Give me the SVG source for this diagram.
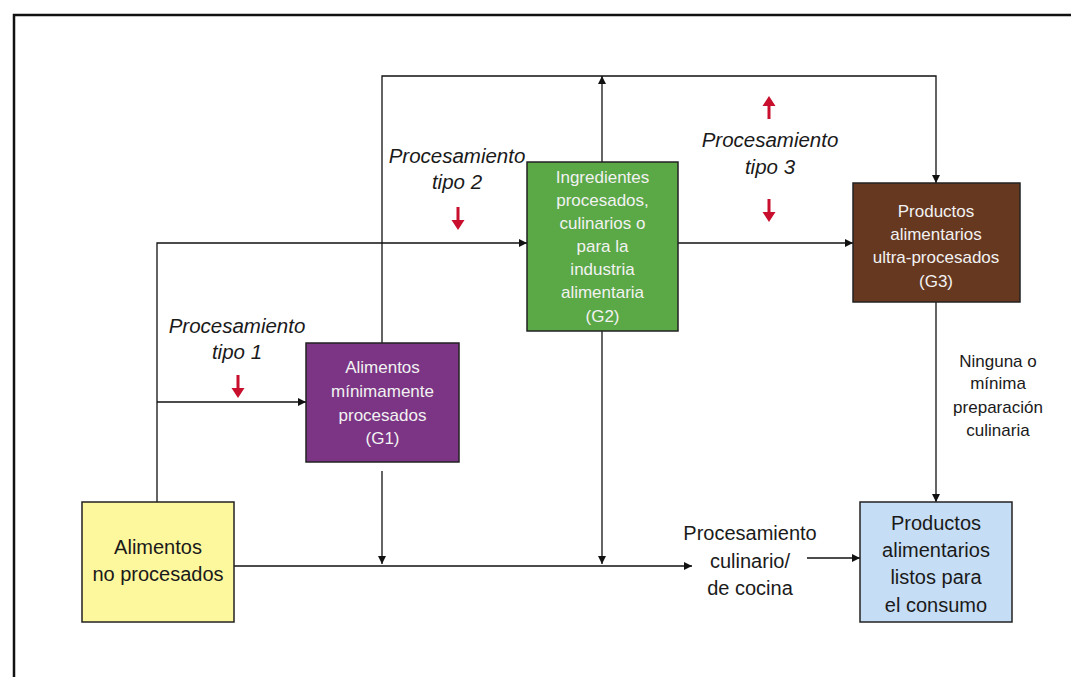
<svg xmlns="http://www.w3.org/2000/svg" width="1071" height="677" viewBox="0 0 1071 677">
<style>
.t{font-family:"Liberation Sans",Arial,sans-serif;text-anchor:middle}
.lt{fill:#f2f2f2;font-size:17px}
.dk{fill:#1a1a1a;font-size:20px}
.it{font-style:italic;font-size:20.5px;fill:#1a1a1a}
.lb{fill:#1a1a1a;font-size:17px}
.box{stroke:#222;stroke-width:1.5}
.ln{fill:none;stroke:#111;stroke-width:1.3}
.red{fill:#c8102e}
</style>
<defs>
<marker id="ah" viewBox="0 0 10 10" refX="10" refY="5" markerWidth="8" markerHeight="8" markerUnits="userSpaceOnUse" orient="auto">
<path d="M0,0 L10,5 L0,10 z" fill="#111"/>
</marker>
</defs>
<rect width="1071" height="677" fill="#fff"/>
<path d="M14,677 V15 H1071" fill="none" stroke="#111" stroke-width="2.5"/>

<g id="connectors">
<path class="ln" d="M157,502 V243 H527" marker-end="url(#ah)"/>
<path class="ln" d="M157,402 H306" marker-end="url(#ah)"/>
<path class="ln" d="M382,343 V76 H936 V183" marker-end="url(#ah)"/>
<path class="ln" d="M602,162 V76" marker-end="url(#ah)"/>
<path class="ln" d="M678,243 H853" marker-end="url(#ah)"/>
<path class="ln" d="M382,471 V564" marker-end="url(#ah)"/>
<path class="ln" d="M602,331 V564" marker-end="url(#ah)"/>
<path class="ln" d="M234,566 H692" marker-end="url(#ah)"/>
<path class="ln" d="M807,558 H860" marker-end="url(#ah)"/>
<path class="ln" d="M936,302 V502" marker-end="url(#ah)"/>
</g>

<g id="red-arrows">
<path class="red" d="M236.5,375 h3 v13 h5 l-6.5,10 l-6.5,-10 h5 z"/>
<path class="red" d="M456.5,207 h3 v13 h5 l-6.5,10 l-6.5,-10 h5 z"/>
<path class="red" d="M767.5,199 h3 v13 h5 l-6.5,10 l-6.5,-10 h5 z"/>
<path class="red" d="M767.5,119 h3 v-13 h5 l-6.5,-10 l-6.5,10 h5 z"/>
</g>

<g id="labels">
<text class="t it" x="237" y="333">Procesamiento</text>
<text class="t it" x="237" y="359">tipo 1</text>
<text class="t it" x="457" y="163">Procesamiento</text>
<text class="t it" x="457" y="189">tipo 2</text>
<text class="t it" x="770" y="147">Procesamiento</text>
<text class="t it" x="770" y="174">tipo 3</text>
<text class="t dk" x="750" y="540">Procesamiento</text>
<text class="t dk" x="750" y="568">culinario/</text>
<text class="t dk" x="750" y="595">de cocina</text>
<text class="t lb" x="998" y="367">Ninguna o</text>
<text class="t lb" x="998" y="389">mínima</text>
<text class="t lb" x="998" y="413">preparación</text>
<text class="t lb" x="998" y="436">culinaria</text>
</g>

<g id="node-yellow">
<rect class="box" x="82" y="502" width="152" height="120" fill="#fdf79d"/>
<text class="t dk" x="158" y="554">Alimentos</text>
<text class="t dk" x="158" y="581">no procesados</text>
</g>

<g id="node-g1">
<rect class="box" x="306" y="343" width="153" height="119" fill="#7b3584"/>
<text class="t lt" x="382.5" y="373">Alimentos</text>
<text class="t lt" x="382.5" y="397">mínimamente</text>
<text class="t lt" x="382.5" y="421">procesados</text>
<text class="t lt" x="382.5" y="444">(G1)</text>
</g>

<g id="node-g2">
<rect class="box" x="527" y="162" width="151" height="169" fill="#5aa846"/>
<text class="t lt" x="602.5" y="183">Ingredientes</text>
<text class="t lt" x="602.5" y="206">procesados,</text>
<text class="t lt" x="602.5" y="229">culinarios o</text>
<text class="t lt" x="602.5" y="252">para la</text>
<text class="t lt" x="602.5" y="275">industria</text>
<text class="t lt" x="602.5" y="298">alimentaria</text>
<text class="t lt" x="602.5" y="322">(G2)</text>
</g>

<g id="node-g3">
<rect class="box" x="853" y="183" width="167" height="119" fill="#663820"/>
<text class="t lt" x="936" y="217">Productos</text>
<text class="t lt" x="936" y="240">alimentarios</text>
<text class="t lt" x="936" y="263">ultra-procesados</text>
<text class="t lt" x="936" y="287">(G3)</text>
</g>

<g id="node-ready">
<rect class="box" x="860" y="502" width="152" height="120" fill="#c6def5"/>
<text class="t dk" x="936" y="530">Productos</text>
<text class="t dk" x="936" y="557">alimentarios</text>
<text class="t dk" x="936" y="584">listos para</text>
<text class="t dk" x="936" y="612">el consumo</text>
</g>
</svg>
